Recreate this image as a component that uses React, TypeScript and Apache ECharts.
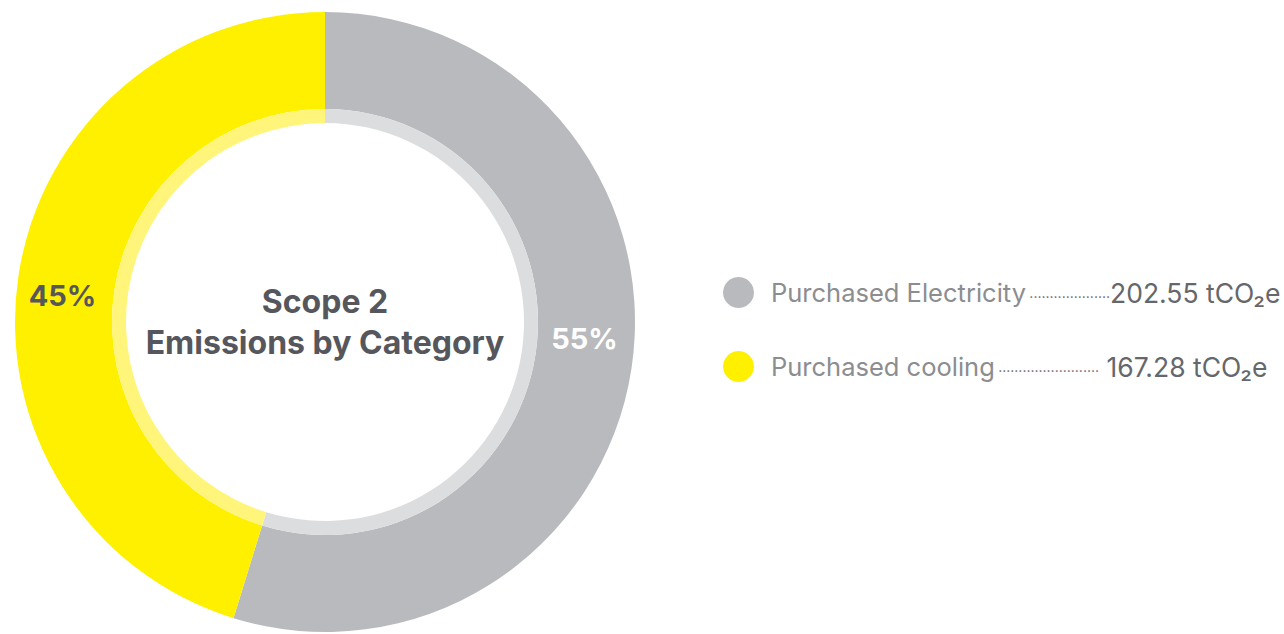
import React, { useEffect, useRef } from "react";
import * as echarts from "echarts";

const categories = ["Purchased Electricity", "Purchased cooling"];
const values = [202.55, 167.28];
const unit = "tCO₂e";
const mainColors = ["#b9babd", "#fff000"];
const lightColors = ["#dcdddf", "#fff57a"];
const labelColors = ["#ffffff", "#55575c"];
const labelOffsets = [[-2, -23], [-1, 13]];
const leaderDots = [20, 25];
const centerTitle = "Scope 2\nEmissions by Category";

export default function App() {
  const ref = useRef<HTMLDivElement>(null);
  useEffect(() => {
    if (!ref.current) return;
    const chart = echarts.init(ref.current, null, { renderer: "svg" });
    const total = values.reduce((a, b) => a + b, 0);
    const font = "Inter, 'Noto Sans', sans-serif";
    chart.setOption({
      animation: false,
      backgroundColor: "#ffffff",
      legend: {
        orient: "vertical",
        left: 718,
        top: 272,
        itemWidth: 31,
        itemHeight: 31,
        itemGap: 43,
        icon: "circle",
        selectedMode: false,
        data: categories,
        formatter: (name: string) => {
          const i = categories.indexOf(name);
          return `{n|${name}} {d|${".".repeat(leaderDots[i])}}{v|${i === 1 ? " " : ""}${values[i].toFixed(2)} ${unit}}`;
        },
        textStyle: {
          fontFamily: font,
          rich: {
            n: { fontSize: 25.5, color: "#8c8d90", fontFamily: font, padding: [0, 0, 0, 12] },
            d: { fontSize: 14, color: "#66676b", fontFamily: font },
            v: { fontSize: 26.5, color: "#66676b", fontFamily: font },
          },
        },
      },
      graphic: [
        {
          type: "text",
          x: 325,
          y: 322,
          style: {
            text: centerTitle,
            align: "center",
            verticalAlign: "middle",
            fontFamily: font,
            fontWeight: "bold",
            fontSize: 32,
            lineHeight: 41,
            fill: "#55575c",
          },
        },
      ],
      series: [
        {
          type: "pie",
          center: [325, 322],
          radius: [213, 310],
          startAngle: 90,
          clockwise: true,
          silent: true,
          labelLine: { show: false },
          data: categories.map((name, i) => ({
            name,
            value: values[i],
            itemStyle: { color: mainColors[i] },
            label: {
              show: true,
              position: "inside",
              formatter: () => `${Math.round((values[i] / total) * 100)}%`,
              color: labelColors[i],
              fontFamily: font,
              fontWeight: "bold",
              fontSize: 29,
              offset: labelOffsets[i],
            },
          })),
        },
        {
          type: "pie",
          center: [325, 322],
          radius: [199, 213],
          startAngle: 90,
          clockwise: true,
          silent: true,
          label: { show: false },
          labelLine: { show: false },
          data: categories.map((name, i) => ({
            name,
            value: values[i],
            itemStyle: { color: lightColors[i] },
          })),
        },
      ],
    });
    return () => chart.dispose();
  }, []);
  return (
    <div
      ref={ref}
      style={{ position: "fixed", left: 0, top: 0, width: 1284, height: 634 }}
    />
  );
}
